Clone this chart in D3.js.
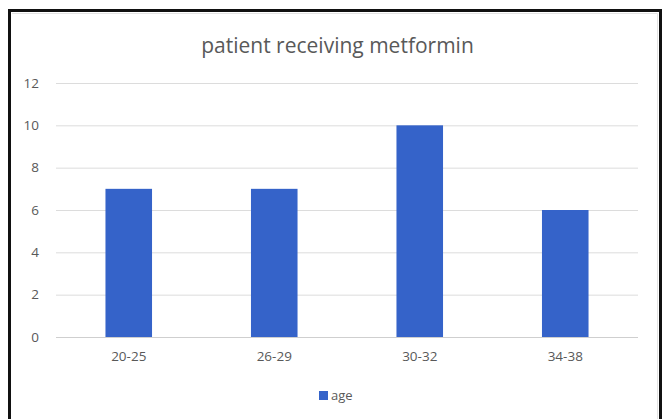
<!DOCTYPE html>
<html>
<head>
<meta charset="utf-8">
<script src="https://cdn.jsdelivr.net/npm/d3@7"></script>
<style>
  html, body { margin: 0; padding: 0; background: #fff; }
  svg { display: block; }
</style>
</head>
<body>
<svg id="chart" width="668" height="419"></svg>
<script>
// Patients receiving metformin, by age group
const categories = ["20-25", "26-29", "30-32", "34-38"];
const ageCounts = [7, 7, 10, 6];
const yTicks = [0, 2, 4, 6, 8, 10, 12];
const seriesName = "age";
const chartTitle = "patient receiving metformin";

const svg = d3.select("#chart");
const font = "'Open Sans', 'Liberation Sans', sans-serif";
const textGrey = "#595959";
const barColor = "#3563c9";

// Outer frame (open at the bottom)
svg.append("path")
  .attr("d", "M9.5,430 V10.5 H660.5 V430")
  .attr("fill", "none")
  .attr("stroke", "#111")
  .attr("stroke-width", 3);
svg.append("path")
  .attr("d", "M12,13.5 H657.5 V430")
  .attr("fill", "none")
  .attr("stroke", "#e3e3e3")
  .attr("stroke-width", 1);

const plot = { left: 56, right: 638, top: 83, bottom: 337 };

const x = d3.scaleBand()
  .domain(categories)
  .range([plot.left, plot.right])
  .paddingInner(0.68)
  .paddingOuter(0.34);

const y = d3.scaleLinear()
  .domain([0, 12])
  .range([plot.bottom, plot.top]);

// Title
svg.append("text")
  .attr("x", 337.5)
  .attr("y", 53)
  .attr("text-anchor", "middle")
  .attr("font-family", font)
  .attr("font-size", 21)
  .attr("fill", textGrey)
  .text(chartTitle);

// Horizontal gridlines and y labels
const yAxis = d3.axisLeft(y)
  .tickValues(yTicks)
  .tickSize(-(plot.right - plot.left))
  .tickPadding(17)
  .tickFormat(d3.format("d"));

const gy = svg.append("g")
  .attr("transform", `translate(${plot.left},0)`)
  .call(yAxis);
gy.select(".domain").remove();
gy.selectAll(".tick line")
  .attr("stroke", d => d === 0 ? "#cfcfcf" : "#dcdcdc")
  .attr("stroke-width", 1);
gy.selectAll(".tick text")
  .attr("font-family", font)
  .attr("font-size", 13.5)
  .attr("fill", textGrey);

// Bars
svg.append("g")
  .selectAll("rect")
  .data(categories)
  .join("rect")
  .attr("x", d => x(d))
  .attr("y", (d, i) => y(ageCounts[i]))
  .attr("width", x.bandwidth())
  .attr("height", (d, i) => y(0) - y(ageCounts[i]))
  .attr("fill", barColor);

// Category labels
const xAxis = d3.axisBottom(x).tickSize(0).tickPadding(14);
const gx = svg.append("g")
  .attr("transform", `translate(0,${plot.bottom})`)
  .call(xAxis);
gx.select(".domain").remove();
gx.selectAll(".tick text")
  .attr("font-family", font)
  .attr("font-size", 13.5)
  .attr("fill", textGrey);

// Legend
const legend = svg.append("g").attr("transform", "translate(319,391)");
legend.append("rect")
  .attr("x", 0).attr("y", 0)
  .attr("width", 9).attr("height", 9)
  .attr("fill", barColor);
legend.append("text")
  .attr("x", 12)
  .attr("y", 9)
  .attr("font-family", font)
  .attr("font-size", 13)
  .attr("fill", textGrey)
  .text(seriesName);
</script>
</body>
</html>
